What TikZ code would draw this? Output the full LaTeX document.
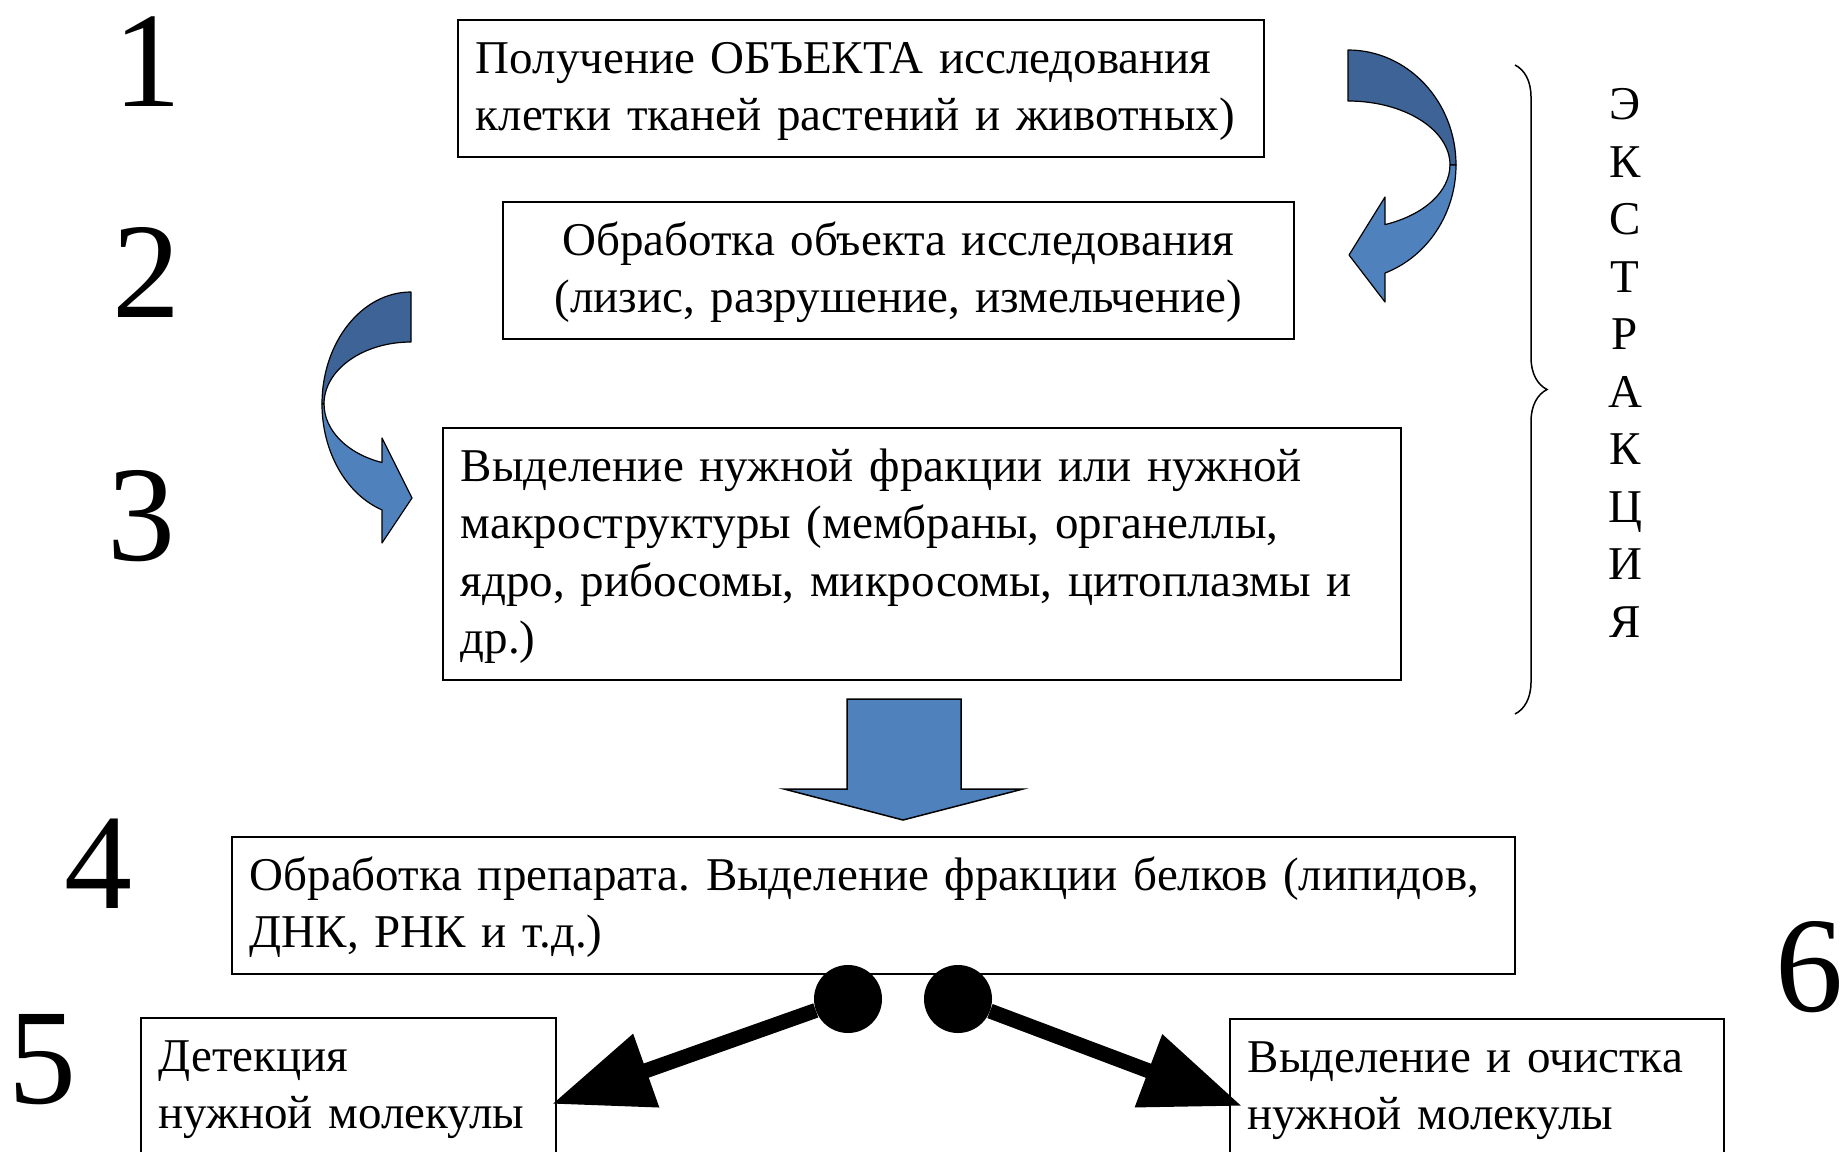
\documentclass[tikz,border=0pt]{standalone}
\usepackage{fontspec}
\setmainfont{Liberation Serif}
\usetikzlibrary{arrows.meta,decorations.pathreplacing}
\newcommand\stagefont{\fontsize{47}{57.5}\selectfont\frenchspacing}
\newcommand\numfont{\fontsize{136}{136}\selectfont}
\definecolor{arrowlight}{HTML}{4F81BD}
\definecolor{arrowdark}{HTML}{3E6397}
\begin{document}
\begin{tikzpicture}[x=1pt,y=-1pt,
    stage/.style={rectangle,draw,line width=1.5pt,anchor=north west,inner xsep=18pt,inner ysep=0pt,
      minimum height=137pt,font=\stagefont,align=left,
      execute at begin node=\rule{0pt}{45pt},execute at end node=\strut},
    num/.style={font=\numfont,anchor=base,inner sep=0pt},
    dot/.style={circle,fill=black,minimum size=68pt,inner sep=0pt},
    band/.style={draw=black,line width=1.2pt,line join=round},
    fork/.style={line width=15pt,-{Triangle[length=100pt,width=74pt]}}]
  \useasboundingbox (0,0) rectangle (1841,1151);
  \clip (0,0) rectangle (1841,1151);

  % step numbers
  \node[num] (n1) at (147,106) {1};
  \node[num] (n2) at (146,317) {2};
  \node[num] (n3) at (141,560) {3};
  \node[num] (n4) at (98,908) {4};
  \node[num] (n5) at (43,1103) {5};
  \node[num] (n6) at (1809,1011) {6};

  % steps
  \node[stage,text width=770pt] (obj) at (457,19)
    {Получение ОБЪЕКТА исследования\\клетки тканей растений и животных)};
  \node[stage,text width=755pt,align=center] (lysis) at (502,201)
    {Обработка объекта исследования\\(лизис, разрушение, измельчение)};
  \node[stage,text width=922pt,minimum height=252pt] (fract) at (442,427)
    {Выделение нужной фракции или нужной\\макроструктуры (мембраны, органеллы,\\ядро, рибосомы, микросомы, цитоплазмы и\\др.)};
  \node[stage,text width=1247pt] (prep) at (231,836)
    {Обработка препарата. Выделение фракции белков (липидов,\\ДНК, РНК и т.д.)};
  \node[stage,text width=379pt] (detect) at (140,1017)
    {Детекция\\нужной молекулы};
  \node[stage,text width=458pt] (purif) at (1229,1018)
    {Выделение и очистка\\нужной молекулы};

  % extraction brace
  \draw[decorate,decoration={brace,amplitude=32pt},line width=1.5pt] (1515,65) -- (1515,714);
  \node[font=\stagefont,align=center,inner sep=0pt] (extr) at (1625,363)
    {Э\\К\\С\\Т\\Р\\А\\К\\Ц\\И\\Я};

  % curved arrow 1 -> 2
  \draw[band,fill=arrowdark] (1348,50) arc[start angle=-90,end angle=0,x radius=108,y radius=115]
    -- (1450,165) arc[start angle=0,end angle=-90,x radius=102,y radius=64] -- cycle;
  \draw[band,fill=arrowlight] (1456,165) arc[start angle=0,end angle=70,x radius=108,y radius=115]
    -- (1385,302) -- (1349,255) -- (1385,197) -- (1385,224.6)
    arc[start angle=68.7,end angle=0,x radius=102,y radius=64] -- cycle;

  % curved arrow 2 -> 3
  \draw[band,fill=arrowdark] (411,292) arc[start angle=-90,end angle=-180,x radius=89,y radius=112]
    -- (324,404) arc[start angle=180,end angle=270,x radius=87,y radius=62] -- cycle;
  \draw[band,fill=arrowlight] (322,404) arc[start angle=180,end angle=109,x radius=89,y radius=112]
    -- (382,543) -- (412,498) -- (382,438) -- (382,462.5)
    arc[start angle=109.5,end angle=180,x radius=87,y radius=62] -- cycle;

  % block arrow 3 -> 4
  \draw[fill=arrowlight,line width=1.5pt] (847,699) -- (961,699) -- (961,789) -- (1023,789)
    -- (903,820) -- (784,789) -- (847,789) -- cycle;

  % fork to 5 and 6
  \coordinate (tl) at (552,1104);
  \coordinate (tr) at (1242,1106);
  \node[dot] (dl) at (848,999) {};
  \node[dot] (dr) at (958,999) {};
  \draw[fork] (dl) -- (tl);
  \draw[fork] (dr) -- (tr);
\end{tikzpicture}
\end{document}
